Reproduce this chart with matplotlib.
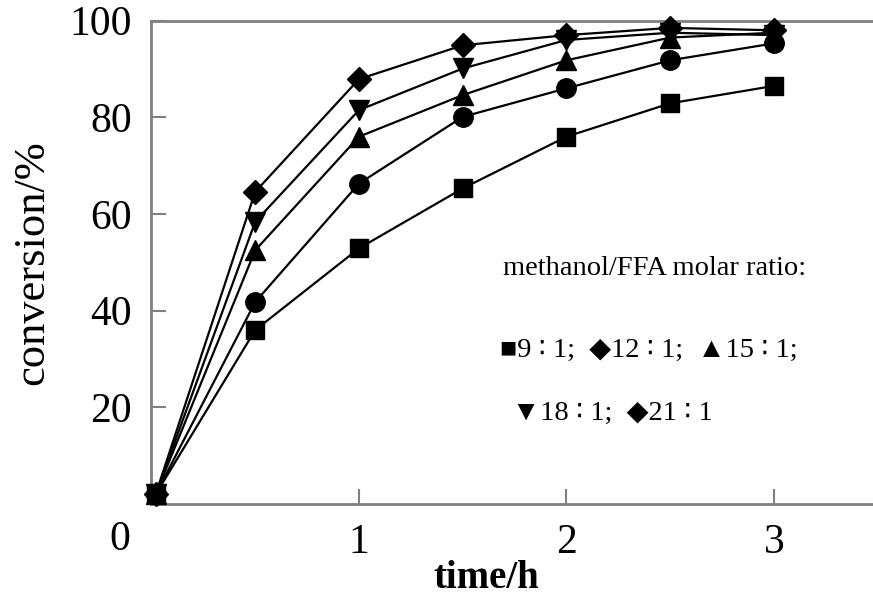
#!/usr/bin/env python3
import matplotlib
matplotlib.use("Agg")
import matplotlib.pyplot as plt

# --- dados ---
TEMPO = [0.02, 0.5, 1.0, 1.5, 2.0, 2.5, 3.0]
RAZOES = ["9:1", "12:1", "15:1", "18:1", "21:1"]
CONV_9 = [2.0, 36.0, 52.9, 65.3, 76.0, 82.9, 86.5]
CONV_12 = [2.0, 41.8, 66.3, 80.1, 86.0, 91.8, 95.3]
CONV_15 = [2.0, 52.5, 76.0, 84.6, 91.8, 96.5, 97.5]
CONV_18 = [2.0, 58.4, 81.5, 90.1, 96.0, 97.5, 97.0]
CONV_21 = [2.0, 64.6, 87.9, 94.9, 97.0, 98.5, 98.0]
MARCADORES = ["s", "o", "^", "v", "D"]
TAMANHOS = [13, 14, 14, 14, 12]
YTICKS = [20, 40, 60, 80, 100]
XTICKS = [1, 2, 3]

SERIF = ["Liberation Serif", "DejaVu Sans", "Noto Sans CJK SC"]
CINZA = "#808080"


def gerar_grafico(saida="out.png"):
    series = [CONV_9, CONV_12, CONV_15, CONV_18, CONV_21]

    fig = plt.figure(figsize=(8.73, 5.98), dpi=100)
    ax = fig.add_axes([0.1735, 0.157, 0.8265, 0.8085])

    for valores, m, ms in zip(series, MARCADORES, TAMANHOS):
        ax.plot(TEMPO, valores, color="black", lw=1.6, marker=m,
                ms=ms, mfc="black", mec="black", clip_on=False, zorder=3)

    ax.set_xlim(0, 3.477)
    ax.set_ylim(0, 100)
    ax.set_xticks(XTICKS)
    ax.set_yticks(YTICKS)
    ax.tick_params(direction="in", length=11, width=1.5, color=CINZA,
                   labelsize=30, pad=14)
    for lab in ax.get_xticklabels() + ax.get_yticklabels():
        lab.set_family(SERIF)

    ax.spines["right"].set_visible(False)
    for lado in ["left", "top", "bottom"]:
        ax.spines[lado].set_color(CINZA)
        ax.spines[lado].set_linewidth(2)

    # rótulo "0" no canto
    ax.text(-0.152, -9.5, "0", fontsize=30, family=SERIF,
            ha="center", va="baseline", clip_on=False)

    ax.set_xlabel("time/h", fontsize=28, fontweight="bold", family=SERIF)
    ax.xaxis.set_label_coords(0.464, -0.1737)
    ax.xaxis.label.set_va("baseline")
    ax.set_ylabel("conversion/%", fontsize=32, family=SERIF)
    ax.yaxis.set_label_coords(-0.138, 0.5)

    # legenda como texto
    ax.text(0.487, 0.488, "methanol/FFA molar ratio:", fontsize=20.5,
            family=SERIF, transform=ax.transAxes, va="center")
    ax.text(0.483, 0.3185, "■9 ∶ 1;\u2002◆12 ∶ 1;\u2002▲15 ∶ 1;",
            fontsize=20.5, family=SERIF, transform=ax.transAxes,
            va="center")
    ax.text(0.4997, 0.188, "▼18 ∶ 1;\u2002◆21 ∶ 1", fontsize=20.5,
            family=SERIF, transform=ax.transAxes, va="center")

    fig.savefig(saida, dpi=100)
    plt.close(fig)


if __name__ == "__main__":
    gerar_grafico()
